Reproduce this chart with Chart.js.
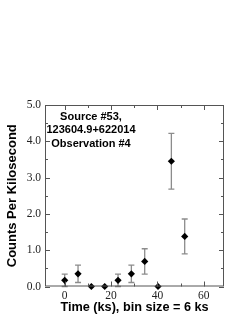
<!DOCTYPE html>
<html lang="en">
<head>
    <meta charset="UTF-8">
    <title>Source #53 light curve</title>
    <style>
        html, body { margin: 0; padding: 0; background: #fff; }
        #wrap { width: 249px; height: 323px; }
    </style>
</head>
<body>
    <div id="wrap"><canvas id="myChart" width="249" height="323"></canvas></div>

    <script src="https://cdn.jsdelivr.net/npm/chart.js@4.4.1/dist/chart.umd.min.js"></script>
    <script>
        // light curve values
        var timeKs = [0, 5.75, 11.5, 17.25, 23, 28.75, 34.5, 40.25, 46, 51.75];
        var countsPerKs = [0.17, 0.35, 0, 0, 0.17, 0.35, 0.69, 0, 3.45, 1.38];
        var errorKs = [0.17, 0.24, 0, 0, 0.17, 0.24, 0.35, 0, 0.77, 0.48];
        var yTicks = [0, 1, 2, 3, 4, 5];
        var xTicks = [0, 20, 40, 60];
        var noteLines = ["Source #53,", "123604.9+622014", "Observation #4"];

        var points = timeKs.map(function (t, i) {
            return { x: t, y: countsPerKs[i] };
        });

        // inward tick marks on all four sides
        var frameTicks = {
            id: 'frameTicks',
            afterDraw: function (chart) {
                var ctx = chart.ctx, a = chart.chartArea;
                var xs = chart.scales.x, ys = chart.scales.y;
                ctx.save();
                ctx.strokeStyle = '#555';
                ctx.lineWidth = 1;
                ctx.strokeRect(a.left + 0.5, a.top + 0.5, a.right - a.left - 1, a.bottom - a.top - 1);
                ctx.beginPath();
                for (var v = 0; v <= 5; v += 0.5) {
                    var py = Math.round(ys.getPixelForValue(v)) + 0.5;
                    var len = (v % 1 === 0) ? 5 : 3;
                    ctx.moveTo(a.left, py); ctx.lineTo(a.left + len, py);
                    ctx.moveTo(a.right, py); ctx.lineTo(a.right - len, py);
                }
                for (var t = 0; t <= 60; t += 10) {
                    var px = Math.round(xs.getPixelForValue(t)) + 0.5;
                    var l2 = (t % 20 === 0) ? 5 : 3;
                    ctx.moveTo(px, a.bottom); ctx.lineTo(px, a.bottom - l2);
                    ctx.moveTo(px, a.top); ctx.lineTo(px, a.top + l2);
                }
                ctx.stroke();
                ctx.restore();
            }
        };

        // vertical error bars with caps
        var errorBars = {
            id: 'errorBars',
            beforeDatasetsDraw: function (chart) {
                var ctx = chart.ctx;
                var xs = chart.scales.x, ys = chart.scales.y;
                ctx.save();
                ctx.strokeStyle = '#8c8c8c';
                ctx.lineWidth = 1.3;
                ctx.beginPath();
                for (var i = 0; i < timeKs.length; i++) {
                    if (!errorKs[i]) continue;
                    var px = xs.getPixelForValue(timeKs[i]);
                    var top = ys.getPixelForValue(countsPerKs[i] + errorKs[i]);
                    var bot = ys.getPixelForValue(Math.max(0, countsPerKs[i] - errorKs[i]));
                    ctx.moveTo(px, top); ctx.lineTo(px, bot);
                    ctx.moveTo(px - 3, top); ctx.lineTo(px + 3, top);
                    ctx.moveTo(px - 3, bot); ctx.lineTo(px + 3, bot);
                }
                ctx.stroke();
                ctx.restore();
            }
        };

        // the source label in the upper left of the plot
        var sourceNote = {
            id: 'sourceNote',
            afterDraw: function (chart) {
                var ctx = chart.ctx, a = chart.chartArea;
                ctx.save();
                ctx.fillStyle = '#000';
                ctx.font = 'bold 11px "Liberation Sans", Arial, sans-serif';
                ctx.textAlign = 'center';
                ctx.textBaseline = 'middle';
                noteLines.forEach(function (s, i) {
                    ctx.fillText(s, a.left + 46, a.top + 12 + i * 13.3);
                });
                ctx.restore();
            }
        };

        var chart = new Chart(document.getElementById('myChart'), {
            type: 'scatter',
            data: {
                datasets: [{
                    data: points,
                    pointStyle: 'rectRot',
                    pointRadius: 3.6,
                    pointBackgroundColor: '#000',
                    pointBorderColor: '#000',
                    pointBorderWidth: 0,
                    clip: false
                }]
            },
            options: {
                responsive: false,
                animation: false,
                layout: { padding: { top: 105, right: 25, left: 0, bottom: 0 } },
                plugins: { legend: { display: false }, tooltip: { enabled: false } },
                scales: {
                    x: {
                        type: 'linear',
                        min: -8.5,
                        max: 68.7,
                        afterFit: function (s) { s.height = 36.5; },
                        afterBuildTicks: function (s) {
                            s.ticks = xTicks.map(function (v) { return { value: v }; });
                        },
                        grid: { display: false, drawTicks: false },
                        border: { display: false },
                        ticks: {
                            color: '#222',
                            padding: 3,
                            maxRotation: 0,
                            font: { family: '"Liberation Serif", "Times New Roman", serif', size: 11.5 },
                            callback: function (v) { return v; }
                        },
                        title: {
                            display: true,
                            text: 'Time (ks), bin size = 6 ks',
                            color: '#000',
                            padding: { top: 0, bottom: 8 },
                            font: { family: '"Liberation Sans", Arial, sans-serif', size: 12.7, weight: 'bold' }
                        }
                    },
                    y: {
                        min: 0,
                        max: 5,
                        afterFit: function (s) { s.width = 45; },
                        afterBuildTicks: function (s) {
                            s.ticks = yTicks.map(function (v) { return { value: v }; });
                        },
                        grid: { display: false, drawTicks: false },
                        border: { display: false },
                        ticks: {
                            color: '#222',
                            padding: 4,
                            font: { family: '"Liberation Serif", "Times New Roman", serif', size: 11.5 },
                            callback: function (v) { return v.toFixed(1); }
                        },
                        title: {
                            display: true,
                            text: 'Counts Per Kilosecond',
                            color: '#000',
                            padding: { top: 5, bottom: 0 },
                            font: { family: '"Liberation Sans", Arial, sans-serif', size: 13, weight: 'bold' }
                        }
                    }
                }
            },
            plugins: [errorBars, frameTicks, sourceNote]
        });
    </script>
</body>
</html>
